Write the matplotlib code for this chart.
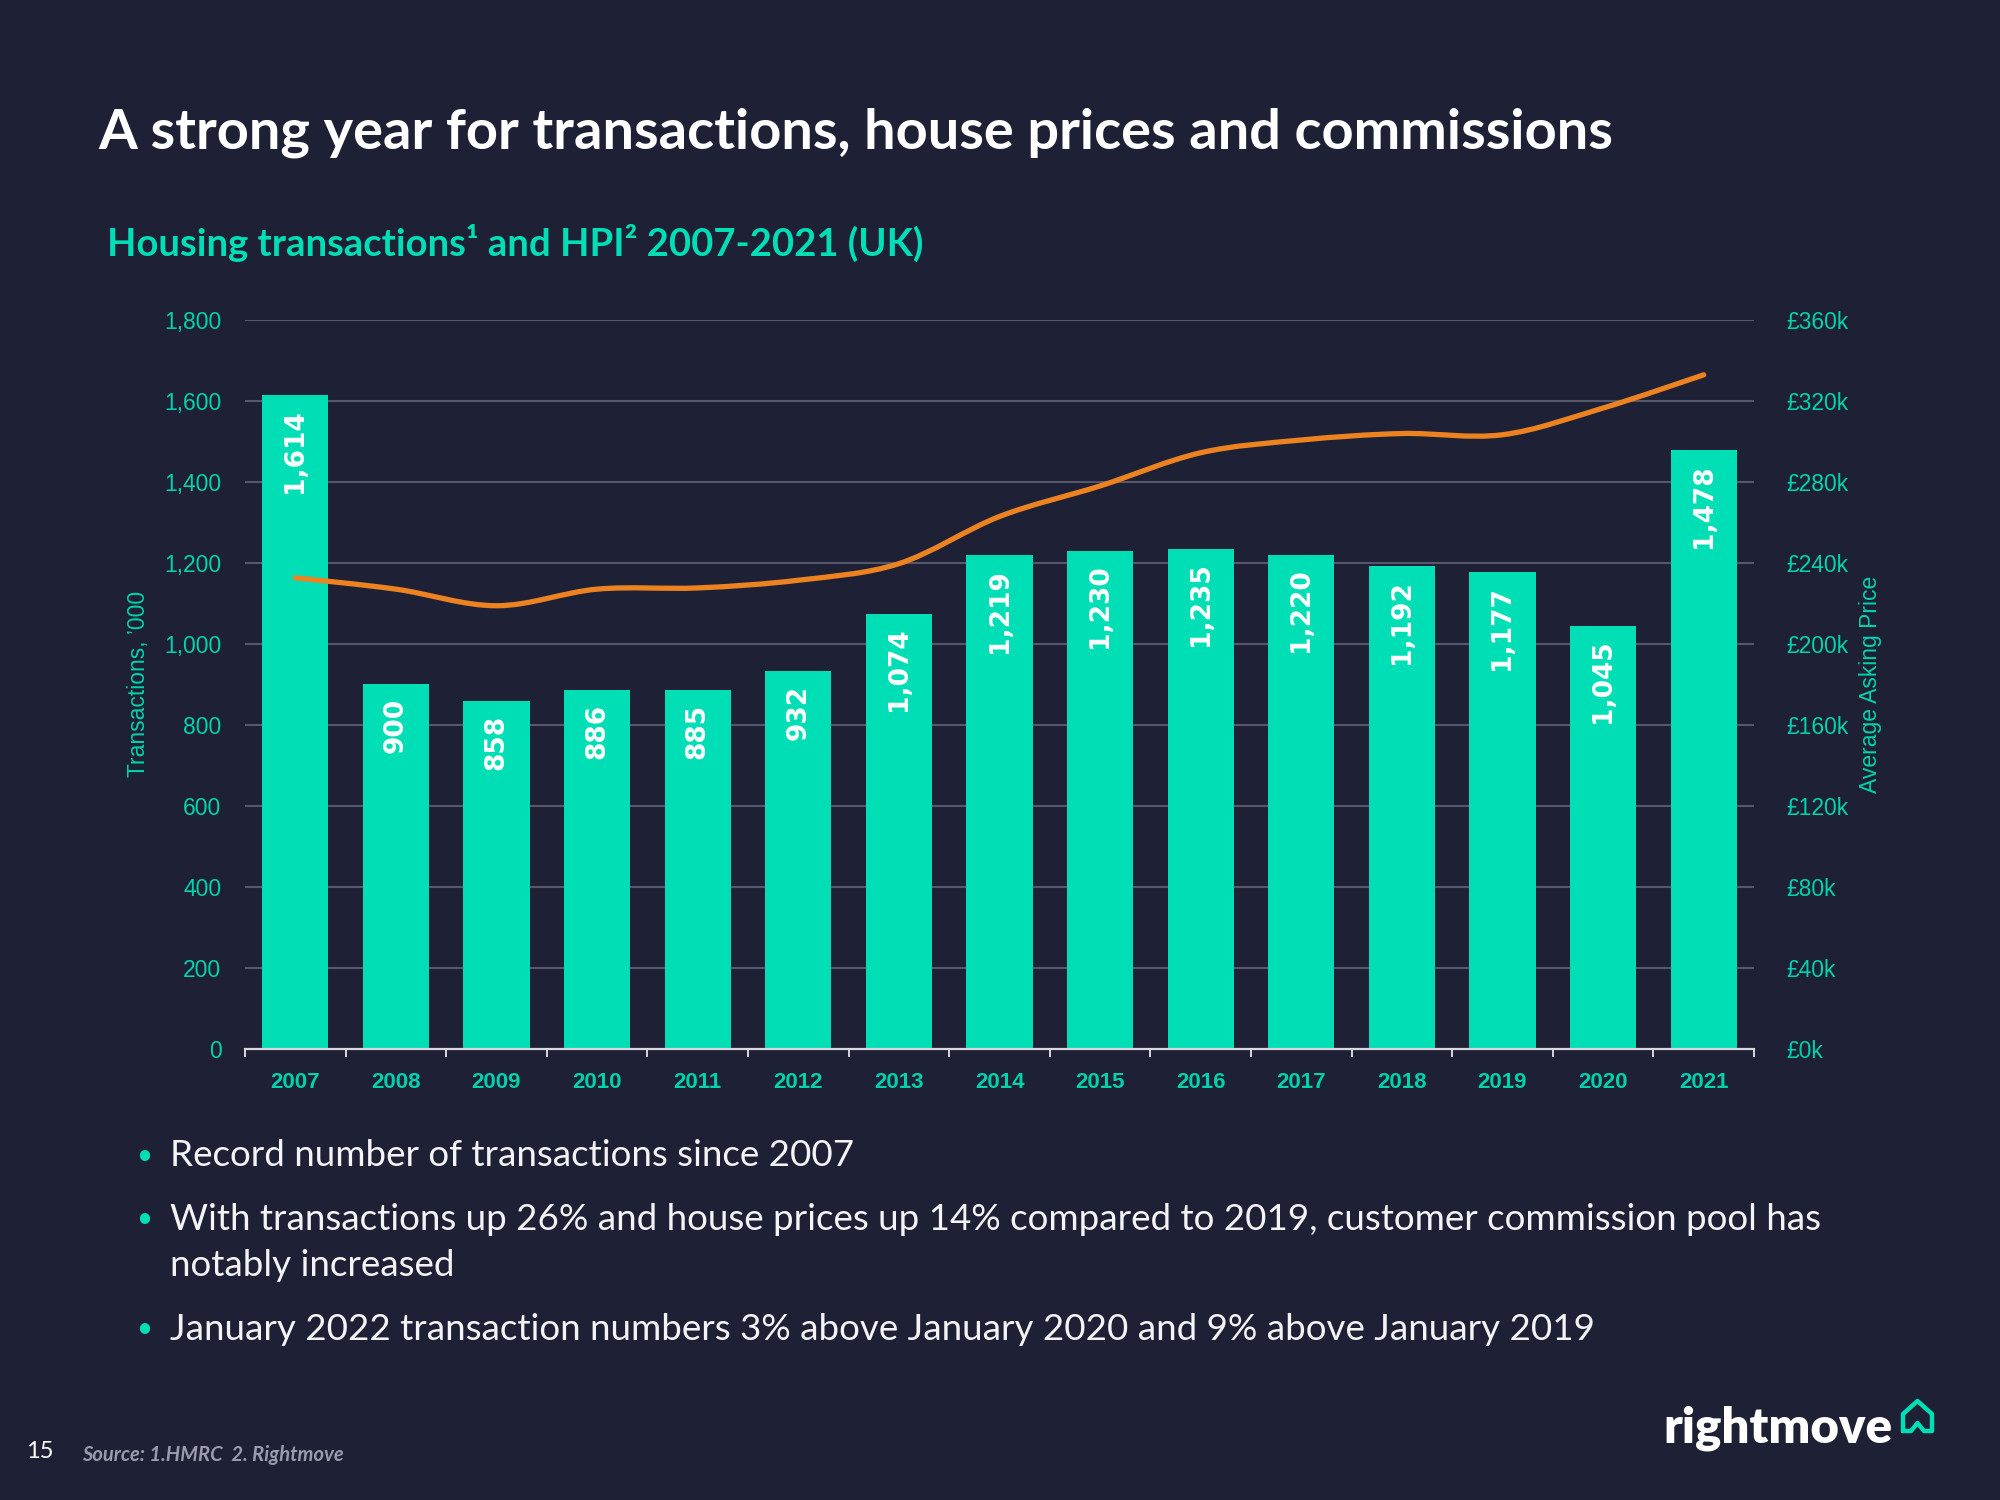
import matplotlib
matplotlib.use("Agg")
import matplotlib.pyplot as plt
from matplotlib.path import Path
from matplotlib.patches import PathPatch
from matplotlib.lines import Line2D
import numpy as np

# ---------------- data ----------------
years = ["2007", "2008", "2009", "2010", "2011", "2012", "2013", "2014",
         "2015", "2016", "2017", "2018", "2019", "2020", "2021"]
transactions = [1614, 900, 858, 886, 885, 932, 1074, 1219,
                1230, 1235, 1220, 1192, 1177, 1045, 1478]
asking_price = [232600, 227000, 218800, 227000, 227600, 231400, 239600, 262900,
                278000, 294400, 300700, 303900, 303300, 316500, 332900]
left_ticks = [0, 200, 400, 600, 800, 1000, 1200, 1400, 1600, 1800]
right_ticks = [0, 40000, 80000, 120000, 160000, 200000, 240000, 280000, 320000, 360000]

title = "A strong year for transactions, house prices and commissions"
subtitle = "Housing transactions¹ and HPI² 2007-2021 (UK)"
bullets = [
    ["Record number of transactions since 2007"],
    ["With transactions up 26% and house prices up 14% compared to 2019, customer commission pool has",
     "notably increased"],
    ["January 2022 transaction numbers 3% above January 2020 and 9% above January 2019"],
]
source = "Source: 1.HMRC  2. Rightmove"
page = "15"

# ---------------- style ----------------
BG = "#1E2035"
TEAL = "#00DEB6"
TEAL_TXT = "#00D2AC"
ORANGE = "#EC8220"
GRID = "#55586A"

fig = plt.figure(figsize=(20, 15), dpi=100, facecolor=BG)
W, H = 2000, 1500

def fx(x):
    return x / W

def fy(y):
    return 1 - y / H

ax = fig.add_axes([fx(245), fy(1048.5), fx(1754) - fx(245), fy(320) - fy(1048.5)])
ax.set_facecolor(BG)
x = np.arange(len(years))
ax.bar(x, transactions, width=0.66, color=TEAL, zorder=2)
ax.set_xlim(-0.5, len(years) - 0.5)
ax.set_ylim(0, 1800)
ax.set_yticks(left_ticks)
ax.set_yticklabels([f"{v:,}" for v in left_ticks])
ax.set_axisbelow(True)
ax.yaxis.grid(True, color=GRID, lw=1.5)
for s in ["top", "left", "right"]:
    ax.spines[s].set_visible(False)
ax.spines["bottom"].set_color("#D8D8DE")
ax.spines["bottom"].set_linewidth(1.6)
ax.spines["bottom"].set_zorder(5)
ax.tick_params(axis="y", length=0, pad=17, labelsize=16.5, labelcolor=TEAL_TXT)
ax.set_xticks(x)
ax.set_xticklabels(years)
ax.set_xticks(np.arange(-0.5, len(years), 1.0), minor=True)
ax.tick_params(axis="x", which="major", length=0, pad=17, labelsize=16,
               labelcolor=TEAL_TXT)
ax.tick_params(axis="x", which="minor", length=6, width=1.4, color="#D8D8DE",
               direction="out")
for lab in ax.get_xticklabels():
    lab.set_fontweight("bold")
    lab.set_family(["Liberation Sans", "DejaVu Sans"])
for lab in ax.get_yticklabels():
    lab.set_family(["Liberation Sans", "DejaVu Sans"])

for xi, v in zip(x, transactions):
    ax.annotate(f"{v:,}", (xi, v), xytext=(0, -10), textcoords="offset points",
                rotation=90, ha="center", va="top", color="white",
                fontsize=19, fontweight="bold", family="DejaVu Sans", zorder=4)

ax.set_ylabel("Transactions, \u2019000", color=TEAL_TXT, fontsize=16.5,
              family=["Liberation Sans", "DejaVu Sans"], labelpad=10)

# secondary axis: average asking price, smooth line
ax2 = ax.twinx()
ax2.set_ylim(0, 360000)
ax2.set_yticks(right_ticks)
ax2.set_yticklabels([f"£{int(v / 1000)}k" for v in right_ticks])
ax2.tick_params(axis="y", length=0, pad=23, labelsize=16.5, labelcolor=TEAL_TXT)
for lab in ax2.get_yticklabels():
    lab.set_family(["Liberation Sans", "DejaVu Sans"])
for s in ax2.spines.values():
    s.set_visible(False)
ax2.patch.set_visible(False)
ax2.set_ylabel("Average Asking Price", color=TEAL_TXT, fontsize=16.5,
               family=["Liberation Sans", "DejaVu Sans"], labelpad=8)

# smoothed line rendered as cubic Bezier segments through the data points
px = np.array(x, dtype=float)
py = np.array(asking_price, dtype=float)
verts = [(px[0], py[0])]
codes = [Path.MOVETO]
n = len(px)
for i in range(n - 1):
    p0 = np.array([px[max(i - 1, 0)], py[max(i - 1, 0)]])
    p1 = np.array([px[i], py[i]])
    p2 = np.array([px[i + 1], py[i + 1]])
    p3 = np.array([px[min(i + 2, n - 1)], py[min(i + 2, n - 1)]])
    c1 = p1 + (p2 - p0) / 6.0
    c2 = p2 - (p3 - p1) / 6.0
    verts += [tuple(c1), tuple(c2), tuple(p2)]
    codes += [Path.CURVE4] * 3
ax2.add_patch(PathPatch(Path(verts, codes), facecolor="none", edgecolor=ORANGE,
                        lw=3.8, capstyle="round", joinstyle="round", zorder=6))

# ---------------- texts ----------------
fig.text(fx(98), fy(133), title, color="white", fontsize=40.3, fontweight="bold",
         family=["Lato", "DejaVu Sans"], va="center", ha="left")
fig.text(fx(107), fy(243), subtitle, color=TEAL, fontsize=27.5, fontweight="bold",
         family=["Lato", "DejaVu Sans"], va="center", ha="left")

line_y = [[1156], [1219, 1266], [1329]]
for blines, ys in zip(bullets, line_y):
    fig.text(fx(144), fy(ys[0]), "•", color=TEAL, fontsize=20, va="center",
             ha="center", family=["Lato", "DejaVu Sans"])
    for t, yy in zip(blines, ys):
        fig.text(fx(170), fy(yy), t, color="#F4F4F6", fontsize=26.5, fontweight="normal",
                 family=["Lato", "DejaVu Sans"], va="center", ha="left")

fig.text(fx(26), fy(1451), page, color="white", fontsize=17,
         family=["Lato", "DejaVu Sans"], va="center", ha="left")
fig.text(fx(82), fy(1455), source, color="#9A9CAC", fontsize=14.5,
         fontweight="bold", style="italic", family=["Lato", "DejaVu Sans"],
         va="center", ha="left")

fig.text(fx(1893), fy(1428), "rightmove", color="white", fontsize=35.5,
         fontweight="heavy", family=["Lato", "DejaVu Sans"], va="center", ha="right")
# house icon
hx = [1903, 1903, 1917.5, 1932, 1932, 1924, 1917.5, 1911, 1903]
hy = [1431, 1414, 1401, 1414, 1431, 1431, 1423, 1431, 1431]
fig.add_artist(Line2D([fx(v) for v in hx], [fy(v) for v in hy], color=TEAL,
                      lw=3.2, solid_joinstyle="round", solid_capstyle="round"))

fig.savefig("out.png", dpi=100, facecolor=BG)
